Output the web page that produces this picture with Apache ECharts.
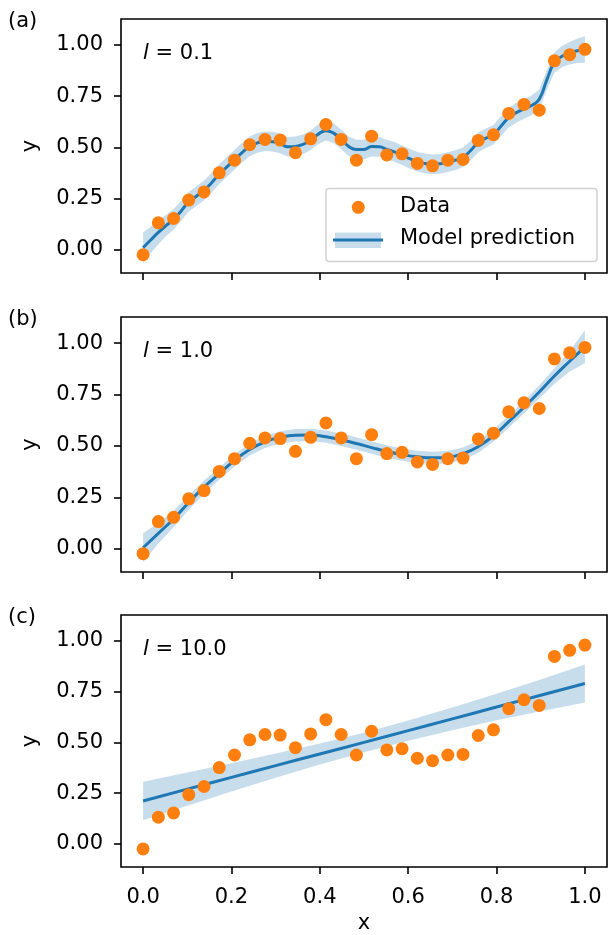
<!DOCTYPE html>
<html>
<head>
<meta charset="utf-8">
<script src="https://cdn.jsdelivr.net/npm/echarts@6/dist/echarts.min.js"></script>
<style>
  html, body { margin: 0; padding: 0; background: #fff; }
  #chart { width: 608px; height: 935px; }
</style>
</head>
<body>
<div id="chart"></div>
<script>
// Observations, shared by all three panels
const xObs = [0.0000, 0.0345, 0.0690, 0.1034, 0.1379, 0.1724, 0.2069, 0.2414, 0.2759, 0.3103,
              0.3448, 0.3793, 0.4138, 0.4483, 0.4828, 0.5172, 0.5517, 0.5862, 0.6207, 0.6552,
              0.6897, 0.7241, 0.7586, 0.7931, 0.8276, 0.8621, 0.8966, 0.9310, 0.9655, 1.0000];
const yObs = [-0.024, 0.132, 0.153, 0.243, 0.283, 0.376, 0.438, 0.513, 0.539, 0.536,
              0.474, 0.542, 0.612, 0.539, 0.438, 0.555, 0.463, 0.469, 0.422, 0.410,
              0.438, 0.441, 0.534, 0.562, 0.666, 0.710, 0.682, 0.923, 0.953, 0.979];

// Panel (a): length scale 0.1 -- predictive mean and half-width of the band
const xFitA = [0.0000, 0.0172, 0.0345, 0.0517, 0.0690, 0.0862, 0.1034, 0.1207, 0.1379, 0.1552,
               0.1724, 0.1897, 0.2069, 0.2241, 0.2414, 0.2586, 0.2759, 0.2931, 0.3103, 0.3276,
               0.3448, 0.3621, 0.3793, 0.3966, 0.4138, 0.4310, 0.4483, 0.4655, 0.4828, 0.5000,
               0.5172, 0.5345, 0.5517, 0.5690, 0.5862, 0.6034, 0.6207, 0.6379, 0.6552, 0.6724,
               0.6897, 0.7069, 0.7241, 0.7414, 0.7586, 0.7759, 0.7931, 0.8103, 0.8276, 0.8448,
               0.8621, 0.8793, 0.8966, 0.9138, 0.9310, 0.9483, 0.9655, 0.9828, 1.0000];
const meanA = [0.010, 0.048, 0.085, 0.118, 0.148, 0.190, 0.235, 0.262, 0.290, 0.328,
               0.370, 0.405, 0.440, 0.475, 0.505, 0.522, 0.530, 0.528, 0.520, 0.503,
               0.505, 0.515, 0.535, 0.565, 0.582, 0.570, 0.540, 0.505, 0.490, 0.490,
               0.504, 0.503, 0.490, 0.478, 0.462, 0.445, 0.430, 0.422, 0.418, 0.420,
               0.428, 0.438, 0.452, 0.485, 0.525, 0.545, 0.562, 0.605, 0.645, 0.670,
               0.688, 0.705, 0.735, 0.830, 0.915, 0.945, 0.960, 0.972, 0.978];
const bandA = [0.075, 0.065, 0.058, 0.052, 0.050, 0.048, 0.048, 0.048, 0.048, 0.048,
               0.048, 0.048, 0.048, 0.048, 0.048, 0.048, 0.048, 0.048, 0.048, 0.048,
               0.048, 0.048, 0.048, 0.048, 0.048, 0.048, 0.048, 0.048, 0.048, 0.048,
               0.048, 0.048, 0.048, 0.048, 0.048, 0.048, 0.048, 0.048, 0.048, 0.048,
               0.048, 0.048, 0.048, 0.048, 0.048, 0.048, 0.048, 0.048, 0.048, 0.048,
               0.048, 0.048, 0.048, 0.048, 0.050, 0.052, 0.055, 0.060, 0.065];

// Panel (b): length scale 1.0
const xFitB = xObs;
const meanB = [0.005, 0.075, 0.145, 0.225, 0.300, 0.365, 0.430, 0.483, 0.520, 0.542,
               0.552, 0.553, 0.545, 0.530, 0.512, 0.492, 0.473, 0.458, 0.447, 0.442,
               0.445, 0.462, 0.497, 0.550, 0.618, 0.688, 0.762, 0.840, 0.912, 0.982];
const bandB = [0.070, 0.050, 0.040, 0.035, 0.032, 0.030, 0.030, 0.030, 0.030, 0.030,
               0.030, 0.030, 0.030, 0.030, 0.030, 0.030, 0.030, 0.030, 0.030, 0.030,
               0.030, 0.030, 0.030, 0.030, 0.030, 0.030, 0.032, 0.038, 0.050, 0.080];

// Panel (c): length scale 10.0
const xFitC = [0.0, 0.1, 0.2, 0.3, 0.4, 0.5, 0.6, 0.7, 0.8, 0.9, 1.0];
const meanC = [0.212, 0.270, 0.328, 0.386, 0.443, 0.500, 0.558, 0.616, 0.674, 0.732, 0.790];
const bandC = [0.095, 0.082, 0.070, 0.060, 0.052, 0.048, 0.050, 0.056, 0.065, 0.078, 0.093];

const panelTags = ['(a)', '(b)', '(c)'];
const lengthScales = ['0.1', '1.0', '10.0'];
const xTicks = [0, 0.2, 0.4, 0.6, 0.8, 1.0];
const yTicks = [0, 0.25, 0.5, 0.75, 1.0];

const FONT = 'DejaVu Sans';
const FS = 21;
const BLUE = '#1f77b4';
const ORANGE = '#ff7f0e';
const BAND = 'rgba(31,119,180,0.25)';

const fits = [
  { x: xFitA, mean: meanA, band: bandA },
  { x: xFitB, mean: meanB, band: bandB },
  { x: xFitC, mean: meanC, band: bandC }
];

const gridLeft = 121, gridWidth = 486;
const gridTops = [19, 317, 615];
const gridHeights = [254, 255, 254];

const grids = [], xAxes = [], yAxes = [], series = [], graphics = [];

fits.forEach((fit, k) => {
  grids.push({
    left: gridLeft, top: gridTops[k], width: gridWidth, height: gridHeights[k],
    show: true, borderColor: '#000', borderWidth: 1.6, backgroundColor: 'transparent'
  });
  const last = k === fits.length - 1;
  xAxes.push({
    gridIndex: k, type: 'value', min: -0.05, max: 1.05,
    splitLine: { show: false },
    axisLine: { show: false, onZero: false },
    axisTick: { show: true, length: 7, customValues: xTicks, lineStyle: { color: '#000', width: 1.6 } },
    axisLabel: {
      show: last, customValues: xTicks, margin: 20,
      formatter: v => v.toFixed(1),
      color: '#000', fontFamily: FONT, fontSize: FS
    },
    name: last ? 'x' : '', nameLocation: 'middle', nameGap: 46,
    nameTextStyle: { color: '#000', fontFamily: FONT, fontSize: FS }
  });
  yAxes.push({
    gridIndex: k, type: 'value', min: -0.113, max: 1.127,
    splitLine: { show: false },
    axisLine: { show: false, onZero: false },
    axisTick: { show: true, length: 7, customValues: yTicks, lineStyle: { color: '#000', width: 1.6 } },
    axisLabel: {
      customValues: yTicks, margin: 18,
      formatter: v => v.toFixed(2),
      color: '#000', fontFamily: FONT, fontSize: FS
    },
    name: 'y', nameLocation: 'middle', nameGap: 80,
    nameTextStyle: { color: '#000', fontFamily: FONT, fontSize: FS }
  });

  // uncertainty band: polygon along the upper edge, back along the lower edge
  series.push({
    type: 'custom', xAxisIndex: k, yAxisIndex: k, silent: true, z: 1,
    data: [0],
    renderItem: (params, api) => {
      const upper = fit.x.map((x, i) => api.coord([x, fit.mean[i] + fit.band[i]]));
      const lower = fit.x.map((x, i) => api.coord([x, fit.mean[i] - fit.band[i]])).reverse();
      return {
        type: 'polygon',
        shape: { points: upper.concat(lower) },
        style: { fill: BAND, stroke: null }
      };
    }
  });
  series.push({
    name: 'Model prediction', type: 'line', xAxisIndex: k, yAxisIndex: k,
    data: fit.x.map((x, i) => [x, fit.mean[i]]),
    smooth: true, symbol: 'none',
    lineStyle: { color: BLUE, width: 3 }, z: 3
  });
  series.push({
    name: 'Data', type: 'scatter', xAxisIndex: k, yAxisIndex: k,
    data: xObs.map((x, i) => [x, yObs[i]]),
    symbolSize: 13, itemStyle: { color: ORANGE, opacity: 1 }, z: 4
  });

  // panel tag
  graphics.push({
    type: 'text', x: 8, y: gridTops[k] + 2.5, z: 100,
    style: { text: panelTags[k], fill: '#000', font: FS + 'px "' + FONT + '"', verticalAlign: 'middle', align: 'left' }
  });
  // length-scale annotation
  graphics.push({
    type: 'text', x: 143, y: gridTops[k] + 35, z: 100,
    style: {
      text: '{i|l}{n| = ' + lengthScales[k] + '}',
      verticalAlign: 'middle', align: 'left',
      rich: {
        i: { fontFamily: FONT, fontSize: FS, fontStyle: 'italic', fill: '#000' },
        n: { fontFamily: FONT, fontSize: FS, fill: '#000' }
      }
    }
  });
});

// legend box inside panel (a)
const legendItems = [
  { type: 'rect', shape: { x: 326, y: 188.5, width: 271, height: 73, r: 3 },
    style: { fill: 'rgba(255,255,255,0.8)', stroke: '#d2d2d2', lineWidth: 1.5 } },
  { type: 'circle', shape: { cx: 358.3, cy: 207.3, r: 6.5 }, style: { fill: ORANGE } },
  { type: 'rect', shape: { x: 335, y: 232.5, width: 46, height: 15.5 }, style: { fill: BAND } },
  { type: 'line', shape: { x1: 333, y1: 240, x2: 383, y2: 240 }, style: { stroke: BLUE, lineWidth: 3 } },
  { type: 'text', x: 400, y: 207, style: { text: 'Data', fill: '#000', font: FS + 'px "' + FONT + '"', verticalAlign: 'middle' } },
  { type: 'text', x: 400, y: 238.5, style: { text: 'Model prediction', fill: '#000', font: FS + 'px "' + FONT + '"', verticalAlign: 'middle' } }
];
legendItems.forEach((el, i) => { el.z = 200 + i; graphics.push(el); });

const chart = echarts.init(document.getElementById('chart'), null, { renderer: 'canvas' });
chart.setOption({
  animation: false,
  backgroundColor: '#fff',
  grid: grids,
  xAxis: xAxes,
  yAxis: yAxes,
  series: series,
  graphic: graphics
});
</script>
</body>
</html>
